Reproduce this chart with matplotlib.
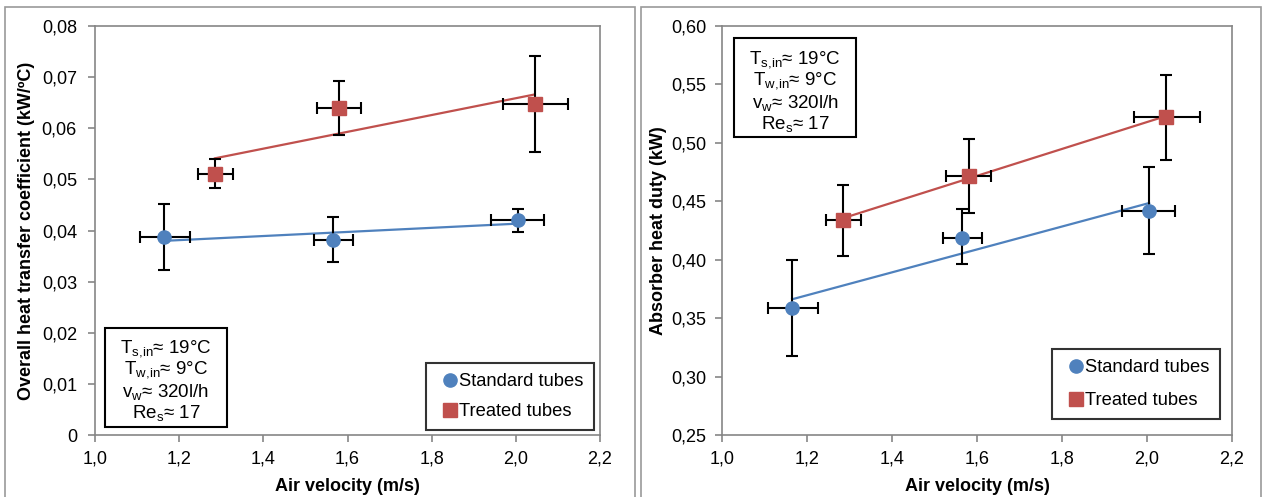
import matplotlib.pyplot as plt
from matplotlib.patches import Rectangle
from matplotlib.lines import Line2D
from matplotlib.ticker import FuncFormatter
import numpy as np

plt.rcParams['font.family'] = ['Liberation Sans', 'DejaVu Sans']
plt.rcParams['mathtext.fontset'] = 'custom'
plt.rcParams['mathtext.rm'] = 'Liberation Sans'
plt.rcParams['mathtext.default'] = 'regular'

#DATA

# left panel: overall heat transfer coefficient (kW/ºC)
std_x = [1.165, 1.565, 2.005]
std_xlo = [1.108, 1.520, 1.940]
std_xhi = [1.225, 1.612, 2.067]
std_u = [0.0387, 0.0382, 0.0420]
std_ulo = [0.0323, 0.0338, 0.0397]
std_uhi = [0.0451, 0.0427, 0.0443]

trt_x = [1.285, 1.580, 2.045]
trt_xlo = [1.245, 1.527, 1.970]
trt_xhi = [1.327, 1.632, 2.125]
trt_u = [0.0511, 0.0639, 0.0647]
trt_ulo = [0.0483, 0.0587, 0.0553]
trt_uhi = [0.0539, 0.0693, 0.0741]

# right panel: absorber heat duty (kW)
std_q = [0.359, 0.419, 0.442]
std_qlo = [0.318, 0.396, 0.405]
std_qhi = [0.400, 0.443, 0.479]
trt_q = [0.434, 0.472, 0.522]
trt_qlo = [0.403, 0.440, 0.485]
trt_qhi = [0.464, 0.503, 0.558]

left_yticks = [0, 0.01, 0.02, 0.03, 0.04, 0.05, 0.06, 0.07, 0.08]
right_yticks = [0.25, 0.30, 0.35, 0.40, 0.45, 0.50, 0.55, 0.60]
xticks = [1.0, 1.2, 1.4, 1.6, 1.8, 2.0, 2.2]

cond_lines = [r"T$_{s,\!in}$≈ 19°C", r"T$_{w,\!in}$≈ 9°C",
              r"v$_{w}$≈ 320l/h", r"Re$_{s}$≈ 17"]

BLUE = '#4F81BD'
RED = '#C0504D'
GRAY = '#868686'
W, H = 1266, 497


#FUNCTIONS

def ax_rect(l, r, t, b):
    return [l / W, 1 - b / H, (r - l) / W, (b - t) / H]


def draw_series(ax, x, xlo, xhi, y, ylo, yhi, color, marker, ms):
    x = np.array(x); y = np.array(y)
    xerr = [x - np.array(xlo), np.array(xhi) - x]
    yerr = [y - np.array(ylo), np.array(yhi) - y]
    k, c = np.polyfit(x, y, 1)
    ax.plot([x.min(), x.max()], [k * x.min() + c, k * x.max() + c],
            color=color, lw=1.6, zorder=2)
    ax.errorbar(x, y, xerr=xerr, yerr=yerr, fmt='none', ecolor='black',
                elinewidth=1.5, capsize=4.5, capthick=1.5, zorder=3)
    ax.plot(x, y, ls='none', marker=marker, ms=ms, color=color,
            mec=color, zorder=4)


def style_axes(ax, yticks, yfmt, ypad):
    ax.set_xlim(1.0, 2.2)
    ax.set_xticks(xticks)
    ax.xaxis.set_major_formatter(FuncFormatter(lambda v, p: ('%.1f' % v).replace('.', ',')))
    ax.set_ylim(yticks[0], yticks[-1])
    ax.set_yticks(yticks)
    ax.yaxis.set_major_formatter(FuncFormatter(yfmt))
    for s in ax.spines.values():
        s.set_color(GRAY)
        s.set_linewidth(1.2)
    ax.tick_params(direction='out', length=5, width=1.2, color=GRAY,
                   labelsize=13)
    ax.tick_params(axis='y', pad=ypad)
    ax.tick_params(axis='x', pad=6)
    ax.set_xlabel('Air velocity (m/s)', fontsize=13, fontweight='bold', labelpad=8)


def cond_box(ax, x0, x1, y0, y1, ys):
    ax.add_patch(Rectangle((x0, y0), x1 - x0, y1 - y0, transform=ax.transAxes,
                           fill=True, facecolor='white', edgecolor='black',
                           lw=1.5, zorder=5))
    for line, yy in zip(cond_lines, ys):
        ax.text((x0 + x1) / 2, yy, line, transform=ax.transAxes, ha='center',
                va='center', fontsize=13.5, zorder=6)


def legend(ax, anchor, spacing):
    h = [Line2D([], [], ls='none', marker='o', ms=9.5, color=BLUE),
         Line2D([], [], ls='none', marker='s', ms=9.5, color=RED)]
    lg = ax.legend(h, ['Standard tubes', 'Treated tubes'], loc='lower right',
                   bbox_to_anchor=anchor, fontsize=13.2, frameon=True,
                   fancybox=False, handlelength=1.5, handletextpad=-0.25,
                   labelspacing=spacing, borderpad=0.55, borderaxespad=0)
    lg.get_frame().set_edgecolor('black')
    lg.get_frame().set_linewidth(1.5)


#ENTRY POINT

fig = plt.figure(figsize=(W / 100, H / 100), dpi=100)

# chart frames
fig.patches.append(Rectangle((5 / W, -0.02), 630 / W, 1 - 7 / H + 0.02,
                             transform=fig.transFigure, fill=False,
                             edgecolor='#9a9a9a', lw=1.2))
fig.patches.append(Rectangle((641 / W, -0.02), 620 / W, 1 - 7 / H + 0.02,
                             transform=fig.transFigure, fill=False,
                             edgecolor='#9a9a9a', lw=1.2))

ax1 = fig.add_axes(ax_rect(95, 600, 26, 435))
draw_series(ax1, std_x, std_xlo, std_xhi, std_u, std_ulo, std_uhi, BLUE, 'o', 9.5)
draw_series(ax1, trt_x, trt_xlo, trt_xhi, trt_u, trt_ulo, trt_uhi, RED, 's', 9.5)
style_axes(ax1, left_yticks, lambda v, p: '0' if v == 0 else ('%.2f' % v).replace('.', ','), 8)
ax1.set_ylabel('Overall heat transfer coefficient (kW/ºC)', fontsize=13,
               fontweight='bold', labelpad=5)
cond_box(ax1, 0.0198, 0.261, 0.0196, 0.262, [0.212, 0.159, 0.105, 0.054])
legend(ax1, (0.988, 0.012), 0.7)

ax2 = fig.add_axes(ax_rect(722, 1232, 26, 435))
draw_series(ax2, std_x, std_xlo, std_xhi, std_q, std_qlo, std_qhi, BLUE, 'o', 9.5)
draw_series(ax2, trt_x, trt_xlo, trt_xhi, trt_q, trt_qlo, trt_qhi, RED, 's', 9.5)
style_axes(ax2, right_yticks, lambda v, p: ('%.2f' % v).replace('.', ','), 6)
ax2.set_ylabel('Absorber heat duty (kW)', fontsize=13, fontweight='bold', labelpad=3)
cond_box(ax2, 0.0235, 0.263, 0.729, 0.971, [0.919, 0.866, 0.812, 0.760])
legend(ax2, (0.976, 0.039), 0.85)

fig.savefig('out.png', dpi=100)
